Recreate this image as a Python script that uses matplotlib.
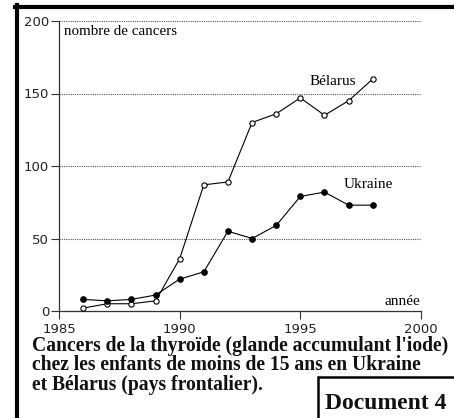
import matplotlib.pyplot as plt
from matplotlib.lines import Line2D
from matplotlib.patches import Rectangle

years = [1986, 1987, 1988, 1989, 1990, 1991, 1992, 1993, 1994, 1995, 1996, 1997, 1998]
belarus = [2, 5, 5, 7, 36, 87, 89, 130, 136, 147, 135, 145, 160]
ukraine = [8, 7, 8, 11, 22, 27, 55, 50, 59, 79, 82, 73, 73]
xticks = [1985, 1990, 1995, 2000]
yticks = [0, 50, 100, 150, 200]
caption = ["Cancers de la thyroïde (glande accumulant l'iode)",
           "chez les enfants de moins de 15 ans en Ukraine",
           "et Bélarus (pays frontalier)."]

fig = plt.figure(figsize=(4.54, 4.18), dpi=100)
ax = fig.add_axes([59 / 454, 107 / 418, 362 / 454, 290 / 418])

# dotted grid lines
for v in yticks[1:]:
    ax.plot([1985, 2000], [v, v], color='#555555', lw=0.8, ls=(0, (1, 1)), zorder=1)

ax.plot(years, belarus, color='black', lw=0.8, marker='o', markersize=3.8,
        markerfacecolor='white', markeredgecolor='black', markeredgewidth=0.8, zorder=3)
ax.plot(years, ukraine, color='black', lw=0.8, marker='o', markersize=3.8,
        markerfacecolor='black', markeredgecolor='black', zorder=3)

ax.set_xlim(1985, 2000)
ax.set_ylim(0, 200)
ax.set_xticks(xticks)
ax.set_yticks(yticks)
ax.tick_params(labelsize=9.5, length=6, width=0.8, color='#333333', labelcolor='#222222')
ax.tick_params(axis='x', pad=2.5)
ax.tick_params(axis='y', pad=1)
for s in ['top', 'right']:
    ax.spines[s].set_visible(False)
for s in ['left', 'bottom']:
    ax.spines[s].set_linewidth(0.9)
    ax.spines[s].set_color('#333333')

serif = 'Liberation Serif'
ax.text(1985.2, 193, 'nombre de cancers', family=serif, fontsize=10.8, va='center', ha='left')
ax.text(1999.95, 6.5, 'année', family=serif, fontsize=11, va='center', ha='right')
ax.text(1996.35, 158, 'Bélarus', family=serif, fontsize=11, va='center', ha='center')
ax.text(1997.8, 87, 'Ukraine', family=serif, fontsize=11, va='center', ha='center')

# caption
for i, line in enumerate(caption):
    fig.text(32 / 454, 1 - (351 + i * 19.5) / 418, line, family=serif, fontsize=14.1,
             fontweight='bold', color='#111111', va='baseline', ha='left')

# frame lines
fig.add_artist(Line2D([16.5 / 454, 16.5 / 454], [0, 1 - 5 / 418], color='black', lw=3))
fig.add_artist(Line2D([15 / 454, 1], [1 - 6.5 / 418, 1 - 6.5 / 418], color='black', lw=3))
fig.add_artist(Rectangle((318 / 454, -0.01), 0.5, (418 - 377) / 418 + 0.01,
                         fill=False, edgecolor='black', lw=1.8))
fig.text(325 / 454, 1 - 409 / 418, 'Document 4', family=serif, fontsize=17,
         fontweight='bold', color='#111111', va='baseline', ha='left')

fig.savefig('out.png', dpi=100)
